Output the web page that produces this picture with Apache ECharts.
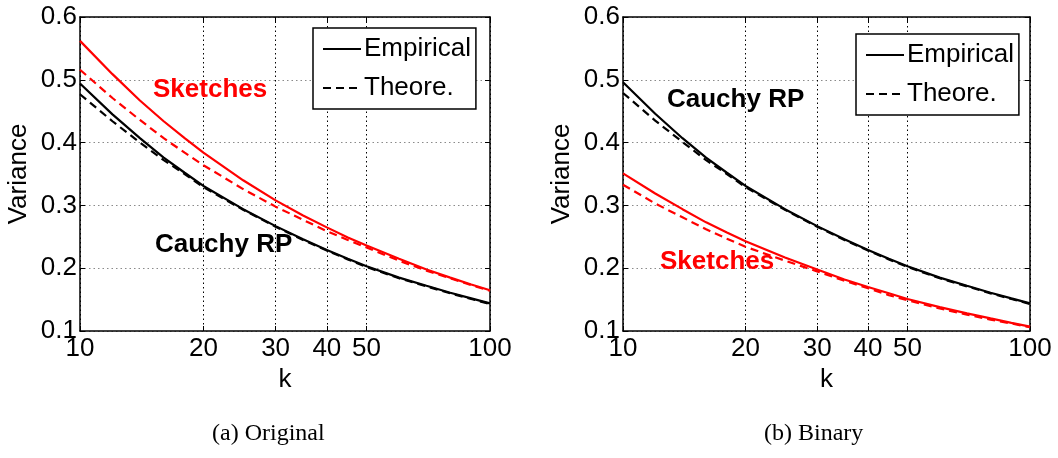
<!DOCTYPE html>
<html>
<head>
<meta charset="utf-8">
<script src="https://cdn.jsdelivr.net/npm/echarts@6/dist/echarts.min.js"></script>
<style>html,body{margin:0;padding:0;background:#fff}#c{width:1058px;height:458px}</style>
</head>
<body>
<div id="c"></div>
<script>
const K = [10,12,14,16,18,20,25,30,35,40,45,50,60,70,80,90,100];
const xTicks = [10,20,30,40,50,100];
// (a) Original
const origSketchEmp  = [0.562,0.509,0.467,0.434,0.407,0.384,0.340,0.308,0.284,0.265,0.249,0.236,0.215,0.198,0.185,0.174,0.165];
const origSketchTheo = [0.516,0.471,0.436,0.407,0.384,0.364,0.326,0.298,0.277,0.259,0.245,0.233,0.212,0.196,0.184,0.173,0.164];
const origCauchyEmp  = [0.494,0.445,0.407,0.376,0.352,0.331,0.294,0.267,0.246,0.229,0.215,0.203,0.185,0.172,0.161,0.152,0.144];
const origCauchyTheo = [0.477,0.434,0.400,0.372,0.350,0.329,0.293,0.266,0.245,0.228,0.214,0.202,0.184,0.171,0.160,0.151,0.143];
// (b) Binary
const binSketchEmp   = [0.351,0.319,0.294,0.273,0.257,0.243,0.217,0.198,0.182,0.170,0.160,0.151,0.138,0.128,0.120,0.113,0.107];
const binSketchTheo  = [0.333,0.303,0.281,0.262,0.247,0.234,0.212,0.195,0.180,0.168,0.157,0.149,0.136,0.126,0.118,0.112,0.106];
const binCauchyEmp   = [0.496,0.446,0.407,0.376,0.352,0.331,0.294,0.267,0.246,0.229,0.215,0.203,0.185,0.172,0.161,0.152,0.144];
const binCauchyTheo  = [0.479,0.435,0.401,0.372,0.350,0.329,0.293,0.266,0.245,0.228,0.214,0.202,0.184,0.171,0.160,0.151,0.143];

const FONT = '"Liberation Sans", Arial, sans-serif';
const FS = 26;
const pairs = arr => K.map((k, i) => [k, arr[i]]);

function xAxes(gi) {
  return [{
    type: 'log', logBase: 10, min: 10, max: 100, gridIndex: gi, position: 'bottom',
    name: 'k', nameLocation: 'middle', nameGap: 29,
    nameTextStyle: {fontSize: FS, fontFamily: FONT, color: '#000'},
    axisLine: {show: true, lineStyle: {color: '#000', width: 1.5}},
    axisTick: {show: true, inside: true, length: 5, customValues: xTicks, lineStyle: {color: '#000'}},
    axisLabel: {show: true, customValues: xTicks, fontSize: FS, fontFamily: FONT, color: '#000', margin: 5, showMinLabel: true, showMaxLabel: true},
    minorTick: {show: false},
    splitLine: {show: true, lineStyle: {color: '#000', width: 1, type: [1.5, 3]}}
  }, {
    type: 'log', logBase: 10, min: 10, max: 100, gridIndex: gi, position: 'top',
    axisLine: {show: true, lineStyle: {color: '#000', width: 1.5}},
    axisTick: {show: true, inside: true, length: 5, customValues: xTicks, lineStyle: {color: '#000'}},
    axisLabel: {show: false}, splitLine: {show: false}
  }];
}
function yAxes(gi) {
  return [{
    type: 'value', min: 0.1, max: 0.6, interval: 0.1, gridIndex: gi, position: 'left',
    name: 'Variance', nameLocation: 'middle', nameGap: 48, nameRotate: 90,
    nameTextStyle: {fontSize: FS, fontFamily: FONT, color: '#000'},
    axisLine: {show: true, lineStyle: {color: '#000', width: 1.5}},
    axisTick: {show: true, inside: true, length: 5, lineStyle: {color: '#000'}},
    axisLabel: {fontSize: FS, fontFamily: FONT, color: '#000', margin: 3, formatter: v => v.toFixed(1)},
    splitLine: {show: true, lineStyle: {color: '#8a8a8a', width: 1, type: [1.5, 3]}}
  }, {
    type: 'value', min: 0.1, max: 0.6, interval: 0.1, gridIndex: gi, position: 'right',
    axisLine: {show: true, lineStyle: {color: '#000', width: 1.5}},
    axisTick: {show: true, inside: true, length: 5, lineStyle: {color: '#000'}},
    axisLabel: {show: false}, splitLine: {show: false}
  }];
}
function line(name, data, color, dashed, xi, yi) {
  return {
    type: 'line', name: name, data: pairs(data), xAxisIndex: xi, yAxisIndex: yi,
    symbol: 'none', smooth: false, silent: true, z: 3,
    lineStyle: {color: color, width: 2.2, type: dashed ? [8, 5] : 'solid'},
    itemStyle: {color: color}
  };
}
function legend(left, top) {
  return {
    data: ['Empirical', 'Theore.'], orient: 'vertical', left: left, top: top,
    itemWidth: 38, itemHeight: 14, itemGap: 13,
    padding: [8, 5, 8, 9], backgroundColor: '#fff',
    borderColor: '#000', borderWidth: 1.5, selectedMode: false,
    itemStyle: {opacity: 0, borderWidth: 0, color: 'transparent'},
    textStyle: {fontSize: FS, fontFamily: FONT, color: '#000', padding: [0, 0, 0, -2]}
  };
}
function txt(x, y, s, color, bold, font, size) {
  return {type: 'text', left: x, top: y, silent: true, z: 10,
    style: {text: s, fill: color, font: (bold ? 'bold ' : '') + size + 'px ' + font}};
}

const option = {
  animation: false,
  backgroundColor: '#fff',
  grid: [
    {left: 80, top: 17, width: 410, height: 314, show: false},
    {left: 623, top: 17, width: 407, height: 314, show: false}
  ],
  xAxis: [...xAxes(0), ...xAxes(1)],
  yAxis: [...yAxes(0), ...yAxes(1)],
  legend: [legend(313, 28), legend(856, 34)],
  series: [
    line('a-sk-emp', origSketchEmp, '#ff0000', false, 0, 0),
    line('a-sk-theo', origSketchTheo, '#ff0000', true, 0, 0),
    line('a-ca-emp', origCauchyEmp, '#000000', false, 0, 0),
    line('a-ca-theo', origCauchyTheo, '#000000', true, 0, 0),
    line('b-sk-emp', binSketchEmp, '#ff0000', false, 2, 2),
    line('b-sk-theo', binSketchTheo, '#ff0000', true, 2, 2),
    line('b-ca-emp', binCauchyEmp, '#000000', false, 2, 2),
    line('b-ca-theo', binCauchyTheo, '#000000', true, 2, 2),
    {type: 'line', name: 'Empirical', data: [], xAxisIndex: 0, yAxisIndex: 0, symbol: 'none',
      lineStyle: {color: '#000', width: 2.2, type: 'solid'}, itemStyle: {color: '#000'}},
    {type: 'line', name: 'Theore.', data: [], xAxisIndex: 0, yAxisIndex: 0, symbol: 'none',
      lineStyle: {color: '#000', width: 2.2, type: [8, 5]}, itemStyle: {color: '#000'}}
  ],
  graphic: [
    txt(153, 77, 'Sketches', '#ff0000', true, FONT, 26),
    txt(155, 232, 'Cauchy RP', '#000', true, FONT, 26),
    txt(667, 87, 'Cauchy RP', '#000', true, FONT, 26),
    txt(660, 249, 'Sketches', '#ff0000', true, FONT, 26),
    {type: 'text', left: 212, top: 422, silent: true,
      style: {text: '(a) Original', fill: '#000', font: '24px "Liberation Serif", "Times New Roman", serif'}},
    {type: 'text', left: 764, top: 422, silent: true,
      style: {text: '(b) Binary', fill: '#000', font: '24px "Liberation Serif", "Times New Roman", serif'}}
  ]
};
const chart = echarts.init(document.getElementById('c'), null, {renderer: 'canvas'});
chart.setOption(option);
</script>
</body>
</html>
